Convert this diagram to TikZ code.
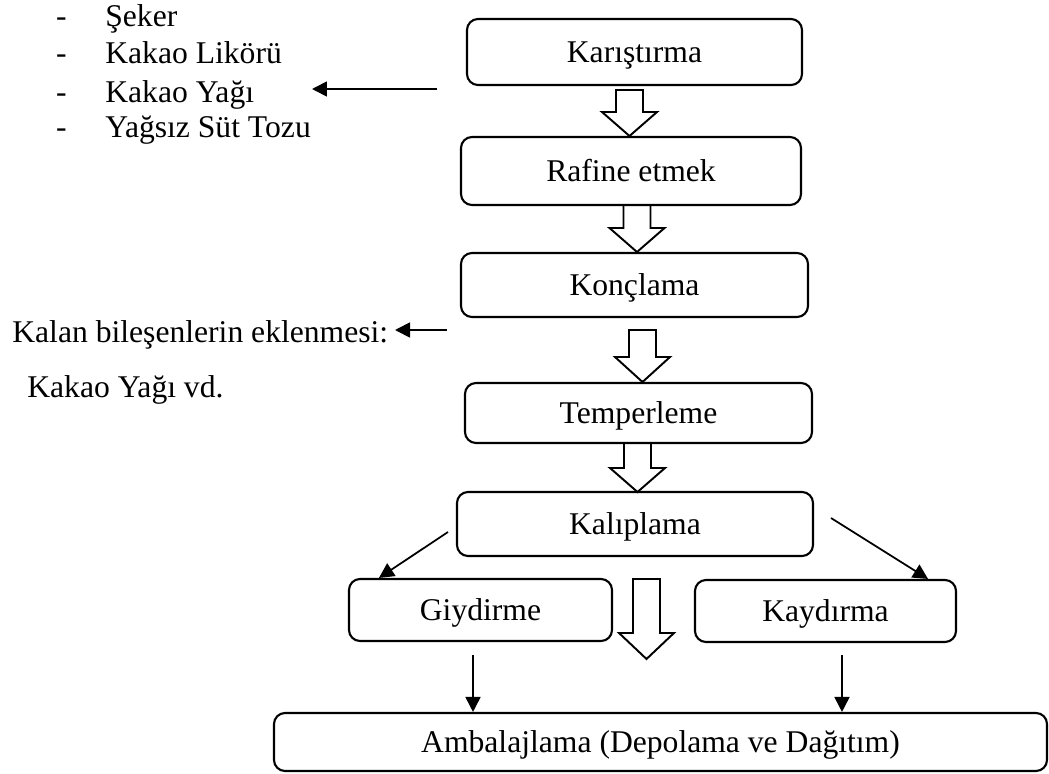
\documentclass[tikz,border=0pt]{standalone}
\usepackage{fontspec}
\setmainfont{Liberation Serif}
\usetikzlibrary{arrows.meta}

\begin{document}
\begin{tikzpicture}
[x=0.02cm, y=-0.02cm,%
  stepbox/.style={draw, line width=1.2pt, rounded corners=0.22cm, inner sep=0pt,
    text height=13pt, text depth=1pt},%
  linedecorate/.style={-{Triangle[length=0.3cm,width=0.3cm]}, line width=1pt},%
  blockdecorate/.style={draw, line width=1.1pt, line join=miter},%
  textdecorate/.style={inner sep=0pt},%
  every node/.style={font=\fontsize{18}{21}\selectfont}]
\useasboundingbox (0,0) rectangle (1049,774);
%% process boxes
\foreach \nodename/\txt/\x/\y/\w/\h in {kar/Karıştırma/634.5/52/335/66,
  raf/Rafine etmek/631/171/340/68, konc/Konçlama/634.5/285/347/64,
  temp/Temperleme/638.5/413/347/60, kalip/Kalıplama/635/524/356/64,
  giy/Giydirme/480.5/610/263/62, kay/Kaydırma/825.5/611/261/62,
  amb/{Ambalajlama (Depolama ve Dağıtım)}/660.5/742/773/58} {
  \node (\nodename) at (\x,\y) [stepbox, minimum width=\w*0.02cm,
    minimum height=\h*0.02cm] {\txt};
}
%% ingredient list
\foreach \itemname/\txt/\y in {seker/Şeker/27, likor/Kakao Likörü/63,
  yag/Kakao Yağı/102, sut/Yağsız Süt Tozu/137} {
  \node (dash-\itemname) at (61.5,\y) [textdecorate, anchor=base] {-};
  \node (\itemname) at (105,\y) [textdecorate, anchor=base west] {\txt};
}
\node (kalan) at (12,342) [textdecorate, anchor=base west]
  {Kalan bileşenlerin eklenmesi:};
\node (vd) at (27,397) [textdecorate, anchor=base west] {Kakao Yağı vd.};
%% hollow block arrows
\foreach \cx/\ya/\yb/\yc in {629.5/90/112/136, 637/205/228/252,
  642.5/330/357/382, 637.5/443/468/492, 646.5/579/633/659} {
  \draw[blockdecorate] ({\cx-13.5},\ya) -- ({\cx+13.5},\ya) -- ({\cx+13.5},\yb)
    -- ({\cx+27.5},\yb) -- (\cx,\yc) -- ({\cx-27.5},\yb) -- ({\cx-13.5},\yb) -- cycle;
}
%% free ends of the connectors
\coordinate (mixtail) at (437,89);
\coordinate (mixtip) at (312,89);
\coordinate (kalantail) at (447,330);
\coordinate (kalantip) at (395,330);
\coordinate (giytail) at (448,532);
\coordinate (giytip) at ([xshift=0.62cm]giy.north west);
\coordinate (kaytail) at (831,518);
\coordinate (kaytip) at ([xshift=-0.58cm]kay.north east);
\coordinate (giydown) at (473,655);
\coordinate (giyend) at (giydown |- amb.north);
\coordinate (kaydown) at (842,655);
\coordinate (kayend) at (kaydown |- amb.north);
%% edges or lines
\path
\foreach \startnode/\endnode in {mixtail/mixtip, kalantail/kalantip,
  giytail/giytip, kaytail/kaytip, giydown/giyend, kaydown/kayend} {
  (\startnode) edge[linedecorate] (\endnode)
};
\end{tikzpicture}
\end{document}
